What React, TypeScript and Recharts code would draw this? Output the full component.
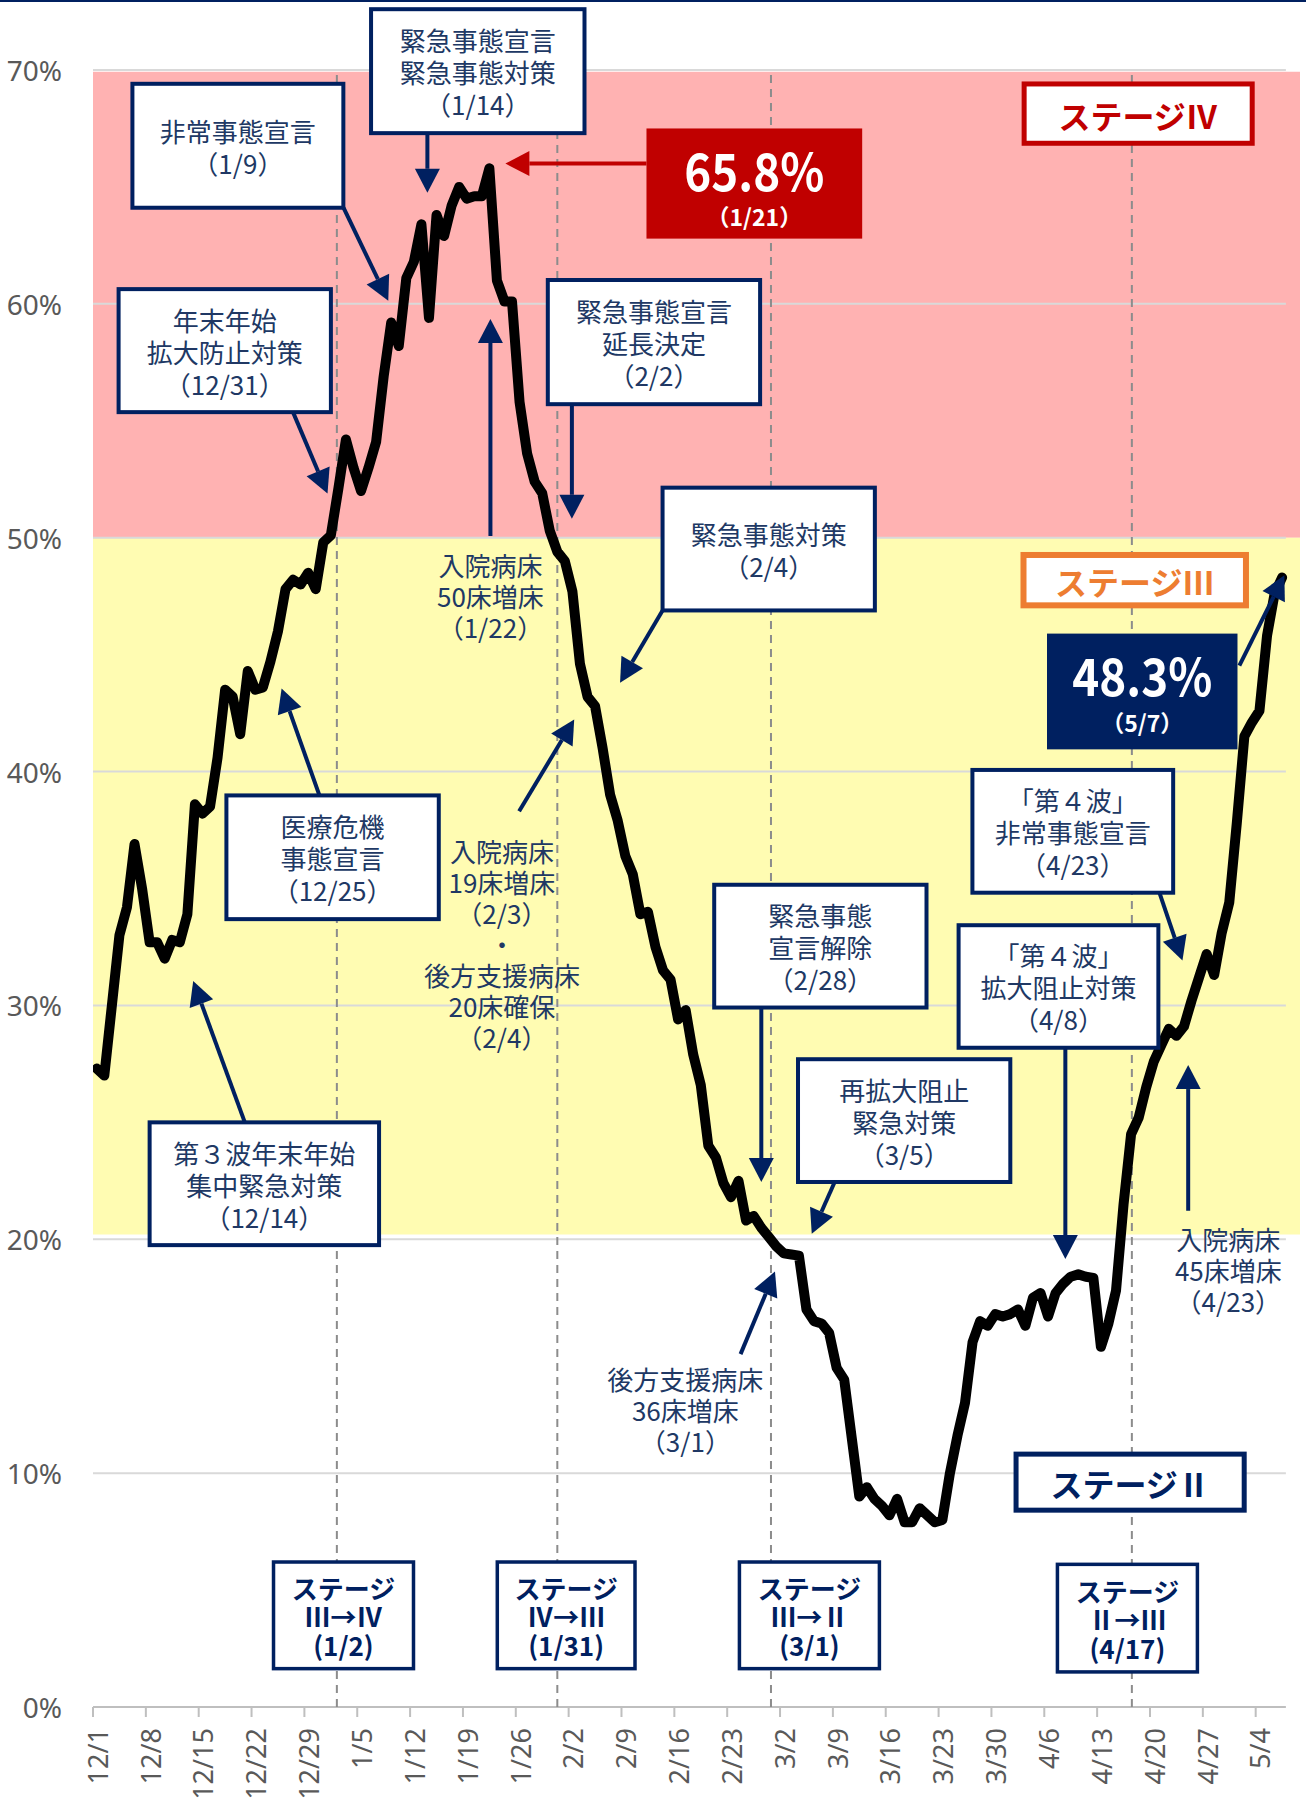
import React from 'react';
import {
  LineChart,
  Line,
  XAxis,
  YAxis,
  ReferenceArea,
  ReferenceLine,
  ReferenceDot,
} from 'recharts';

// 病床使用率（%） 日別 12/1 〜 5/7
const dec = [27.3, 27.0, 30.0, 33.0, 34.2, 36.9, 35.0, 32.7, 32.7, 32.0, 32.8, 32.7, 33.9, 38.6, 38.2, 38.5, 40.6, 43.5, 43.2, 41.6, 44.3, 43.5, 43.6, 44.7, 46.0, 47.8, 48.2, 48.0, 48.5, 47.8, 49.8];
const jan = [50.1, 52.1, 54.2, 53.0, 52.0, 53.0, 54.1, 56.9, 59.2, 58.2, 61.1, 61.8, 63.4, 59.4, 63.8, 62.9, 64.2, 65.0, 64.5, 64.6, 64.6, 65.8, 61.0, 60.1, 60.1, 55.8, 53.6, 52.4, 51.9, 50.3, 49.4];
const feb = [49.0, 47.7, 44.6, 43.2, 42.8, 41.0, 39.0, 37.9, 36.4, 35.6, 33.9, 34.0, 32.5, 31.5, 31.1, 29.4, 29.8, 27.9, 26.6, 24.0, 23.5, 22.4, 21.8, 22.5, 20.8, 21.0, 20.5, 20.1];
const mar = [19.7, 19.4, 19.35, 19.3, 17.0, 16.5, 16.4, 16.0, 14.5, 14.0, 11.5, 9.0, 9.4, 8.9, 8.6, 8.2, 8.9, 7.9, 7.9, 8.5, 8.2, 7.9, 8.0, 10.0, 11.6, 13.0, 15.6, 16.5, 16.3, 16.8, 16.7];
const apr = [16.8, 17.0, 16.3, 17.5, 17.7, 16.7, 17.7, 18.1, 18.4, 18.5, 18.4, 18.35, 15.4, 16.4, 17.8, 21.5, 24.5, 25.2, 26.5, 27.6, 28.3, 29.0, 28.7, 29.1, 30.2, 31.2, 32.2, 31.3, 33.1, 34.4];
const may = [37.8, 41.5, 42.1, 42.6, 45.8, 47.6, 48.3];

const months: [number, number[]][] = [[12, dec], [1, jan], [2, feb], [3, mar], [4, apr], [5, may]];

const data = months
  .flatMap(([m, vals]) => vals.map((v, i) => ({ date: `${m}/${i + 1}`, rate: v })))
  .map((d, i) => ({ ...d, t: i + 0.5 }));

const tickLabels = ['12/1', '12/8', '12/15', '12/22', '12/29', '1/5', '1/12', '1/19', '1/26', '2/2', '2/9', '2/16', '2/23', '3/2', '3/9', '3/16', '3/23', '3/30', '4/6', '4/13', '4/20', '4/27', '5/4'];
const tickPos = tickLabels.map((_, i) => i * 7);
const yTicks = [0, 10, 20, 30, 40, 50, 60, 70];

// ステージ移行日（1/2, 1/31, 3/1, 4/17）
const stageLines = [32.3, 61.5, 89.8, 137.6];

const NAVY = '#002060';
const TEXT = '#203864';
const RED = '#C00000';
const ORANGE = '#ED7D31';
const JP = "'Noto Sans CJK JP', sans-serif";
const X_MAX = 159.87;

type Box = {
  x1: number; x2: number; y1: number; y2: number;
  lines: string[];
  kind: 'box' | 'red' | 'navy' | 'stage' | 'shift';
  color?: string;
};

const boxes: Box[] = [
  { x1: 36.83, x2: 65.1, y1: 67.3, y2: 72.6, lines: ['緊急事態宣言', '緊急事態対策', '（1/14）'], kind: 'box' },
  { x1: 5.22, x2: 33.16, y1: 64.11, y2: 69.41, lines: ['非常事態宣言', '（1/9）'], kind: 'box' },
  { x1: 3.39, x2: 31.51, y1: 55.37, y2: 60.63, lines: ['年末年始', '拡大防止対策', '（12/31）'], kind: 'box' },
  { x1: 73.31, x2: 101.88, y1: 62.79, y2: 67.5, lines: ['65.8%', '（1/21）'], kind: 'red' },
  { x1: 123.0, x2: 153.87, y1: 66.76, y2: 69.51, lines: ['ステージⅣ'], kind: 'stage', color: RED },
  { x1: 60.24, x2: 88.36, y1: 55.71, y2: 61.02, lines: ['緊急事態宣言', '延長決定', '（2/2）'], kind: 'box' },
  { x1: 75.44, x2: 103.56, y1: 46.89, y2: 52.14, lines: ['緊急事態対策', '（2/4）'], kind: 'box' },
  { x1: 122.85, x2: 153.11, y1: 46.98, y2: 49.39, lines: ['ステージⅢ'], kind: 'stage', color: ORANGE },
  { x1: 126.36, x2: 151.59, y1: 40.95, y2: 45.9, lines: ['48.3%', '（5/7）'], kind: 'navy' },
  { x1: 116.48, x2: 143.07, y1: 34.82, y2: 40.07, lines: ['「第４波」', '非常事態宣言', '（4/23）'], kind: 'box' },
  { x1: 114.65, x2: 141.11, y1: 28.19, y2: 33.43, lines: ['「第４波」', '拡大阻止対策', '（4/8）'], kind: 'box' },
  { x1: 17.67, x2: 45.8, y1: 33.69, y2: 38.98, lines: ['医療危機', '事態宣言', '（12/25）'], kind: 'box' },
  { x1: 82.28, x2: 110.4, y1: 29.91, y2: 35.16, lines: ['緊急事態', '宣言解除', '（2/28）'], kind: 'box' },
  { x1: 93.38, x2: 121.5, y1: 22.45, y2: 27.7, lines: ['再拡大阻止', '緊急対策', '（3/5）'], kind: 'box' },
  { x1: 7.5, x2: 37.89, y1: 19.75, y2: 25.0, lines: ['第３波年末年始', '集中緊急対策', '（12/14）'], kind: 'box' },
  { x1: 121.93, x2: 152.81, y1: 8.31, y2: 10.92, lines: ['ステージⅡ'], kind: 'stage', color: NAVY },
  { x1: 23.91, x2: 42.45, y1: 1.64, y2: 6.2, lines: ['ステージ', 'Ⅲ→Ⅳ', '(1/2)'], kind: 'shift' },
  { x1: 53.55, x2: 71.79, y1: 1.64, y2: 6.2, lines: ['ステージ', 'Ⅳ→Ⅲ', '(1/31)'], kind: 'shift' },
  { x1: 85.62, x2: 104.16, y1: 1.64, y2: 6.2, lines: ['ステージ', 'Ⅲ→Ⅱ', '(3/1)'], kind: 'shift' },
  { x1: 127.74, x2: 146.28, y1: 1.5, y2: 6.1, lines: ['ステージ', 'Ⅱ→Ⅲ', '(4/17)'], kind: 'shift' },
];

const notes = [
  { x: 52.64, y: 47.53, lines: ['入院病床', '50床増床', '（1/22）'] },
  { x: 150.38, y: 18.73, lines: ['入院病床', '45床増床', '（4/23）'] },
  { x: 54.16, y: 32.66, lines: ['入院病床', '19床増床', '（2/3）', '・', '後方支援病床', '20床確保', '（2/4）'] },
  { x: 78.46, y: 12.73, lines: ['後方支援病床', '36床増床', '（3/1）'] },
];

const arrows: [number, number, number, number, string][] = [
  [44.29, 67.3, 44.29, 64.75, NAVY],
  [33.18, 64.11, 39.11, 60.13, NAVY],
  [26.49, 55.37, 31.06, 51.89, NAVY],
  [73.31, 66.0, 54.62, 66.0, RED],
  [63.43, 55.72, 63.43, 50.81, NAVY],
  [52.64, 50.07, 52.64, 59.35, NAVY],
  [75.44, 46.89, 69.81, 43.8, NAVY],
  [151.84, 44.53, 157.8, 48.4, NAVY],
  [141.25, 34.82, 144.3, 31.92, NAVY],
  [128.79, 28.19, 128.79, 19.16, NAVY],
  [145.06, 21.22, 145.06, 27.45, NAVY],
  [29.99, 38.98, 24.98, 43.55, NAVY],
  [56.44, 38.3, 63.74, 42.23, NAVY],
  [88.52, 29.91, 88.52, 22.45, NAVY],
  [98.24, 22.45, 95.2, 20.24, NAVY],
  [85.77, 15.09, 90.33, 18.62, NAVY],
  [20.11, 25.0, 13.27, 31.04, NAVY],
];

const arrowShape = (color: string) => (p: any) => {
  const { x1, y1, x2, y2 } = p;
  const len = Math.hypot(x2 - x1, y2 - y1) || 1;
  const ux = (x2 - x1) / len;
  const uy = (y2 - y1) / len;
  const hl = 24;
  const hw = 12.5;
  const bx = x2 - ux * hl;
  const by = y2 - uy * hl;
  return (
    <g>
      <line x1={x1} y1={y1} x2={bx} y2={by} stroke={color} strokeWidth={4} />
      <polygon
        points={`${x2},${y2} ${bx - uy * hw},${by + ux * hw} ${bx + uy * hw},${by - ux * hw}`}
        fill={color}
      />
    </g>
  );
};

// 複数行テキスト（1つの text 要素に tspan で並べる）
const multiLine = (lines: string[], cx: number, cy: number, pitch: number, props: any) => (
  <text textAnchor="middle" dominantBaseline="central" fontFamily={JP} {...props}>
    {lines.map((s, i) => (
      <tspan key={i} x={cx} y={cy + (i - (lines.length - 1) / 2) * pitch} dominantBaseline="central">
        {s}
      </tspan>
    ))}
  </text>
);

const boxShape = (b: Box) => (p: any) => {
  const { x, y, width: w, height: h } = p;
  const cx = x + w / 2;
  const cy = y + h / 2;

  if (b.kind === 'red' || b.kind === 'navy') {
    const fill = b.kind === 'red' ? RED : NAVY;
    return (
      <g>
        <rect x={x} y={y} width={w} height={h} fill={fill} />
        <text x={cx} y={y + 40} textAnchor="middle" dominantBaseline="central" fontSize={52}
          fontWeight={700} fill="#fff" fontFamily={JP} textLength={140} lengthAdjust="spacingAndGlyphs">
          {b.lines[0]}
        </text>
        <text x={cx} y={y + 88} textAnchor="middle" dominantBaseline="central" fontSize={23}
          fontWeight={700} fill="#fff" fontFamily={JP}>
          {b.lines[1]}
        </text>
      </g>
    );
  }
  if (b.kind === 'stage') {
    const sw = b.color === ORANGE ? 6 : 5;
    return (
      <g>
        <rect x={x + sw / 2} y={y + sw / 2} width={w - sw} height={h - sw} fill="#fff" stroke={b.color} strokeWidth={sw} />
        <text x={cx} y={cy + 1} textAnchor="middle" dominantBaseline="central" fontSize={32}
          fontWeight={700} fill={b.color} fontFamily={JP}>
          {b.lines[0]}
        </text>
      </g>
    );
  }
  if (b.kind === 'shift') {
    return (
      <g>
        <rect x={x} y={y} width={w} height={h} fill="#fff" stroke={NAVY} strokeWidth={3.5} />
        {multiLine(b.lines, cx, cy, 28.5, { fontSize: 26, fontWeight: 700, fill: NAVY })}
      </g>
    );
  }
  return (
    <g>
      <rect x={x} y={y} width={w} height={h} fill="#fff" stroke={NAVY} strokeWidth={4} />
      {multiLine(b.lines, cx, cy, 32, { fontSize: 26, fill: TEXT })}
    </g>
  );
};

const noteShape = (lines: string[]) => (p: any) => (
  <g>{multiLine(lines, p.cx, p.cy, 31, { fontSize: 26, fill: TEXT })}</g>
);

const XTick = (p: any) => {
  const { x, y, payload } = p;
  const label = tickLabels[Math.round(payload.value / 7)];
  return (
    <g>
      <line x1={x} y1={y} x2={x} y2={y + 10} stroke="#BFBFBF" strokeWidth={2} />
      <text
        transform={`translate(${x + 5},${y + 21}) rotate(-90)`}
        textAnchor="end"
        dy="0.36em"
        fontSize={27}
        fill="#595959"
        fontFamily="'Noto Sans', sans-serif"
      >
        {label}
      </text>
    </g>
  );
};

const YTick = (p: any) => (
  <text x={62} y={p.y} textAnchor="end" dominantBaseline="central" fontSize={28} fill="#595959"
    fontFamily="'Noto Sans', sans-serif">
    {p.payload.value}%
  </text>
);

export default function App() {
  return (
    <div style={{ position: 'absolute', left: 0, top: 0, width: 1306, height: 1800, background: '#fff' }}>
      <div style={{ position: 'absolute', left: 0, top: 0, width: 1306, height: 2, background: NAVY, zIndex: 2 }} />
      <LineChart width={1306} height={1800} data={data} margin={{ top: 70, right: 6, bottom: 0, left: 0 }}>
        <XAxis
          type="number"
          dataKey="t"
          domain={[0, X_MAX]}
          ticks={tickPos}
          interval={0}
          allowDataOverflow
          axisLine={false}
          tickLine={false}
          tickSize={0}
          tickMargin={0}
          height={93}
          tick={(p: any) => <XTick {...p} />}
        />
        <YAxis
          type="number"
          domain={[0, 70]}
          ticks={yTicks}
          interval={0}
          axisLine={false}
          tickLine={false}
          tickSize={0}
          tickMargin={0}
          width={93}
          tick={(p: any) => <YTick {...p} />}
        />

        {/* ステージ帯 */}
        <ReferenceArea x1={0} x2={X_MAX} y1={50} y2={69.93} fill="#FFB2B2" fillOpacity={1} stroke="none" ifOverflow="visible" zIndex={-300} />
        <ReferenceArea x1={0} x2={X_MAX} y1={20.2} y2={50} fill="#FFFCB2" fillOpacity={1} stroke="none" ifOverflow="visible" zIndex={-300} />

        {yTicks.filter((v) => v > 0).map((v) => (
          <ReferenceLine key={`g${v}`} segment={[{ x: 0, y: v }, { x: 158, y: v }]} stroke="#D9D9D9" strokeWidth={2} ifOverflow="visible" zIndex={-200} />
        ))}
        <ReferenceLine segment={[{ x: 0, y: 0 }, { x: 158, y: 0 }]} stroke="#BFBFBF" strokeWidth={2} ifOverflow="visible" zIndex={-200} />

        {stageLines.map((t) => (
          <ReferenceLine key={`s${t}`} x={t} stroke="#8C8C8C" strokeWidth={2} strokeDasharray="8 6" ifOverflow="visible" zIndex={-100} />
        ))}

        <Line
          type="linear"
          dataKey="rate"
          stroke="#000"
          strokeWidth={10}
          strokeLinejoin="round"
          strokeLinecap="round"
          dot={false}
          activeDot={false}
          isAnimationActive={false}
        />

        {arrows.map(([x1, y1, x2, y2, c], i) => (
          <ReferenceLine
            key={`a${i}`}
            segment={[{ x: x1, y: y1 }, { x: x2, y: y2 }]}
            ifOverflow="visible"
            shape={arrowShape(c)}
            zIndex={1500}
          />
        ))}

        {boxes.map((b, i) => (
          <ReferenceArea
            key={`b${i}`}
            x1={b.x1}
            x2={b.x2}
            y1={b.y1}
            y2={b.y2}
            ifOverflow="visible"
            shape={boxShape(b)}
            zIndex={1600}
          />
        ))}

        {notes.map((n, i) => (
          <ReferenceDot key={`n${i}`} x={n.x} y={n.y} ifOverflow="visible" shape={noteShape(n.lines)} zIndex={1600} />
        ))}
      </LineChart>
    </div>
  );
}
